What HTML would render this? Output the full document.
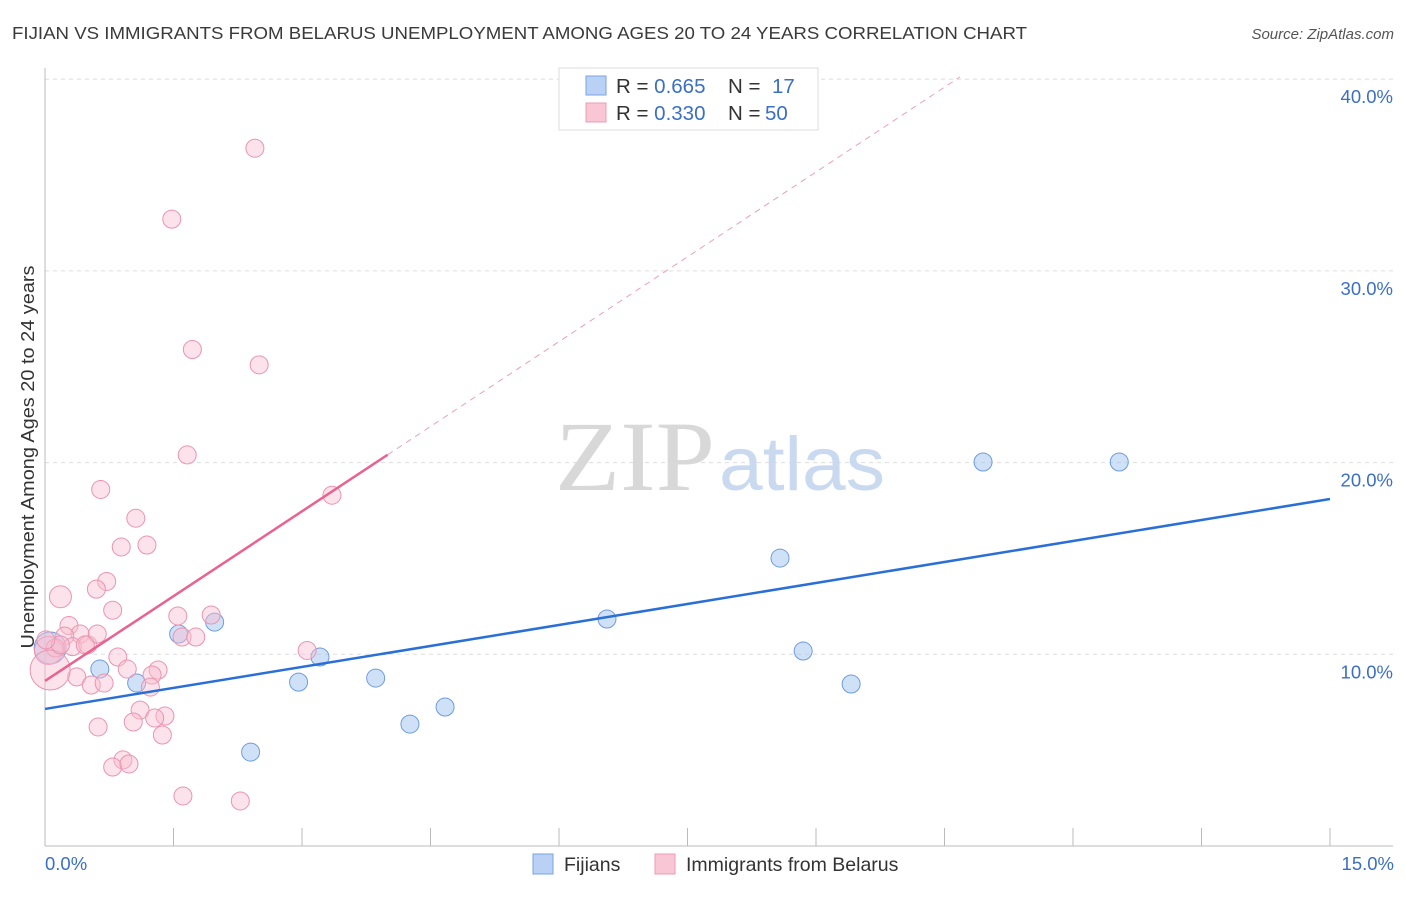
<!DOCTYPE html>
<html><head><meta charset="utf-8"><style>
body{margin:0;background:#fff;font-family:"Liberation Sans",sans-serif;}
svg text{font-family:"Liberation Sans",sans-serif;}
</style></head><body>
<svg id="chart" width="1406" height="892" xmlns="http://www.w3.org/2000/svg">
<text x="12" y="39" font-size="17.5" fill="#3a3a3a" textLength="1015" lengthAdjust="spacingAndGlyphs">FIJIAN VS IMMIGRANTS FROM BELARUS UNEMPLOYMENT AMONG AGES 20 TO 24 YEARS CORRELATION CHART</text>
<text x="1394" y="39" font-size="15" fill="#555" text-anchor="end" font-style="italic">Source: ZipAtlas.com</text>
<g id="grid"></g>
<text x="555" y="490" font-size="100"><tspan fill="#d8d8d8" font-family="Liberation Serif" textLength="160" lengthAdjust="spacingAndGlyphs">ZIP</tspan><tspan fill="#c9d9f0" font-size="76" dx="4" textLength="166" lengthAdjust="spacingAndGlyphs">atlas</tspan></text>
<g id="marks"></g>
<text transform="translate(34,457) rotate(-90)" font-size="18" fill="#333" text-anchor="middle" textLength="383" lengthAdjust="spacingAndGlyphs">Unemployment Among Ages 20 to 24 years</text>
<text x="45" y="870" font-size="18.5" fill="#3b6fc4">0.0%</text>
<text x="1394" y="870" font-size="18.5" fill="#3b6fc4" text-anchor="end">15.0%</text>
<g>
<rect x="559" y="68" width="259" height="62" fill="#fff" stroke="#ddd"/>
<rect x="586" y="76" width="20" height="19" fill="#b8d1f5" stroke="#7aa3e0"/>
<rect x="586" y="103" width="20" height="19" fill="#f9c6d5" stroke="#ec9cb5"/>
<text x="616" y="93" font-size="20.5" fill="#333">R = <tspan fill="#3b6fc4">0.665</tspan><tspan x="728">N = </tspan><tspan x="772" fill="#3b6fc4">17</tspan></text>
<text x="616" y="120" font-size="20.5" fill="#333">R = <tspan fill="#3b6fc4">0.330</tspan><tspan x="728">N = </tspan><tspan x="765" fill="#3b6fc4">50</tspan></text>
</g>
<g>
<rect x="533" y="854" width="20" height="20" fill="#b8d1f5" stroke="#7aa3e0"/>
<text x="564" y="871" font-size="19.5" fill="#333">Fijians</text>
<rect x="655" y="854" width="20" height="20" fill="#f9c6d5" stroke="#ec9cb5"/>
<text x="686" y="871" font-size="19.5" fill="#333">Immigrants from Belarus</text>
</g>
</svg>
<script>
const yTicks=[10,20,30,40];
const yTickLabels=["10.0%","20.0%","30.0%","40.0%"];
const xTicks=[0,1.5,3,4.5,6,7.5,9,10.5,12,13.5,15];
const blueX=[0.06,0.64,1.07,1.56,1.98,2.40,2.96,3.21,3.86,4.26,4.67,6.56,8.58,8.85,9.41,10.95,12.54];
const blueY=[10.33,9.23,8.50,11.06,11.68,4.90,8.55,9.86,8.76,6.36,7.25,11.84,15.02,10.17,8.45,20.03,20.03];
const blueR=[16,9,9,9,9,9,9,9,9,9,9,9,9,9,9,9,9];
const pinkX=[0.04,2.45,1.48,1.72,2.50,1.66,3.35,0.65,1.06,0.89,1.19,0.72,0.18,0.60,0.79,1.55,1.94,0.28,0.41,0.23,0.32,0.50,0.61,1.60,1.76,3.06,0.85,0.96,1.32,1.25,0.37,0.54,0.69,1.23,1.11,1.40,1.03,1.28,0.62,1.37,0.91,0.79,0.98,1.61,2.28,0.12,0.06,0.18,0.47,0.01];
const pinkY=[10.2,36.4,32.7,25.9,25.1,20.4,18.3,18.6,17.1,15.6,15.7,13.8,13.0,13.4,12.3,12.0,12.05,11.5,11.06,10.95,10.4,10.5,11.06,10.9,10.9,10.2,9.86,9.23,9.18,8.92,8.82,8.40,8.50,8.29,7.09,6.78,6.47,6.68,6.21,5.79,4.49,4.12,4.28,2.61,2.35,10.33,9.18,10.49,10.49,10.75];
const pinkR=[14,9,9,9,9,9,9,9,9,9,9,9,11,9,9,9,9,9,9,9,9,9,9,9,9,9,9,9,9,9,9,9,9,9,9,9,9,9,9,9,9,9,9,9,9,9,20,9,9,9];
const blueFit=[7.15,18.1];
const pinkFit=[8.61,2.95];
const pinkSolidEnd=4.0, pinkDashEnd=10.68;
const X0=45,X1=1330,Y0=846,PX=(X1-X0)/15,PY=19.17;
const sx=v=>X0+v*PX, sy=v=>Y0-v*PY;
const NS="http://www.w3.org/2000/svg";
function mk(tag,attrs,parent){const e=document.createElementNS(NS,tag);for(const k in attrs)e.setAttribute(k,attrs[k]);parent.appendChild(e);return e;}
const grid=document.getElementById('grid'),marks=document.getElementById('marks');
yTicks.forEach((t,i)=>{
 const l=mk('line',{x1:X0,x2:1393,y1:sy(t),y2:sy(t),stroke:'#ddd','stroke-dasharray':'4,4'},grid);
 
 
 const tx=mk('text',{x:1393,y:sy(t)+24,'font-size':18.5,fill:'#3b6fc4','text-anchor':'end'},grid);
 tx.textContent=yTickLabels[i];
 
 
});
const ya=mk('line',{x1:X0,x2:X0,y1:68,y2:Y0,stroke:'#bbb'},grid);


const xa=mk('line',{x1:X0,x2:1393,y1:Y0,y2:Y0,stroke:'#bbb'},grid);


xTicks.forEach(t=>{
 const l=mk('line',{x1:sx(t),x2:sx(t),y1:828,y2:Y0,stroke:'#bbb'},grid);
 
 
});
blueX.forEach((x,i)=>{
 const c=mk('circle',{cx:sx(x),cy:sy(blueY[i]),r:blueR[i],fill:'rgba(160,195,240,0.5)',stroke:'#6e9be0','stroke-width':1},marks);
 
 
});
pinkX.forEach((x,i)=>{
 const c=mk('circle',{cx:sx(x),cy:sy(pinkY[i]),r:pinkR[i],fill:'rgba(248,190,208,0.45)',stroke:'#eb94b0','stroke-width':1},marks);
 
 
});
const bl=mk('line',{x1:sx(0),y1:sy(blueFit[0]),x2:sx(15),y2:sy(blueFit[1]),stroke:'#2a6fd6','stroke-width':2.5},marks);


const pl=mk('line',{x1:sx(0),y1:sy(pinkFit[0]),x2:sx(pinkSolidEnd),y2:sy(pinkFit[0]+pinkFit[1]*pinkSolidEnd),stroke:'#e8638f','stroke-width':2.5},marks);


const pd=mk('line',{x1:sx(pinkSolidEnd),y1:sy(pinkFit[0]+pinkFit[1]*pinkSolidEnd),x2:sx(pinkDashEnd),y2:sy(pinkFit[0]+pinkFit[1]*pinkDashEnd),stroke:'#eaa0b8','stroke-width':1,'stroke-dasharray':'6,5'},marks);


</script>
</body></html>
